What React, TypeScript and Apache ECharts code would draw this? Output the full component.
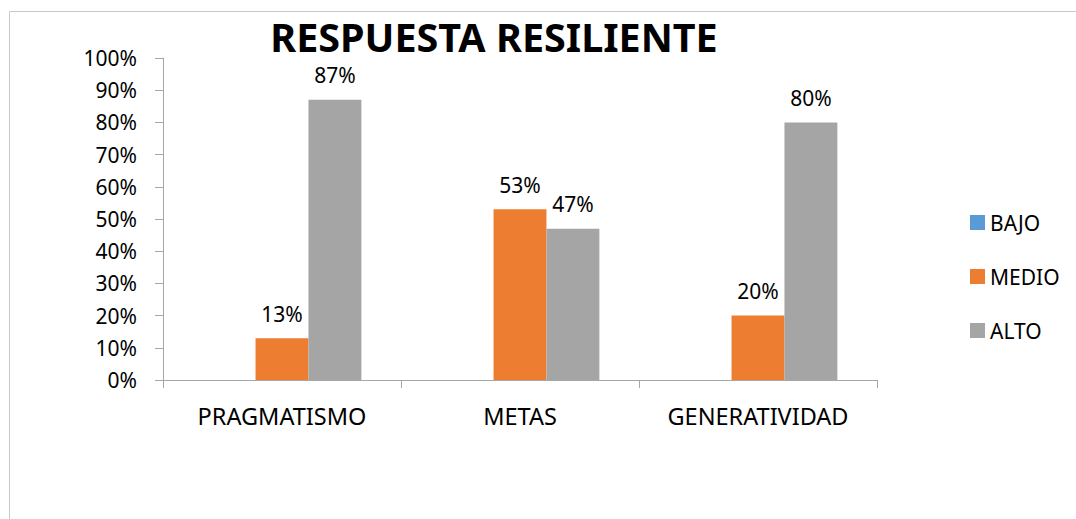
import React, { useEffect, useRef } from "react";
import * as echarts from "echarts";

const categories = ["PRAGMATISMO", "METAS", "GENERATIVIDAD"];
const seriesNames = ["BAJO", "MEDIO", "ALTO"];
const bajo = [0, 0, 0];
const medio = [13, 53, 20];
const alto = [87, 47, 80];
const colors = ["#5b9bd5", "#ed7d31", "#a5a5a5"];
const titleText = "RESPUESTA RESILIENTE";

const FONT = "'Noto Sans', 'Open Sans', sans-serif";

export default function App() {
  const ref = useRef<HTMLDivElement>(null);
  useEffect(() => {
    if (!ref.current) return;
    const chart = echarts.init(ref.current, undefined, { renderer: "svg" });
    const values = [bajo, medio, alto];
    chart.setOption({
      animation: false,
      backgroundColor: "#ffffff",
      textStyle: { fontFamily: FONT },
      title: {
        text: titleText,
        left: 494,
        top: 18,
        padding: 0,
        textAlign: "center",
        textStyle: { fontFamily: FONT, fontWeight: "bold", fontSize: 39.5, lineHeight: 38, color: "#000" },
      },
      legend: {
        orient: "vertical",
        left: 965,
        top: 207,
        itemWidth: 15,
        itemHeight: 15,
        itemGap: 33,
        icon: "rect",
        data: seriesNames,
        textStyle: { fontFamily: FONT, fontSize: 21, color: "#000", padding: [0, 0, 0, 0] },
      },
      graphic: [
        {
          type: "rect",
          shape: { x: 9.5, y: 11.5, width: 1200, height: 700 },
          style: { fill: "none", stroke: "#c8c8c8", lineWidth: 1 },
          silent: true,
        },
      ],
      grid: { left: 163, right: 199, top: 58, bottom: 139 },
      xAxis: {
        type: "category",
        data: categories,
        axisLine: { lineStyle: { color: "#a6a6a6", width: 1 } },
        axisTick: { show: true, length: 8, lineStyle: { color: "#a6a6a6" } },
        axisLabel: { fontFamily: FONT, fontSize: 23.5, color: "#000", margin: 24 },
      },
      yAxis: {
        type: "value",
        min: 0,
        max: 100,
        interval: 10,
        axisLine: { show: true, lineStyle: { color: "#a6a6a6", width: 1 } },
        axisTick: { show: true, length: 8, lineStyle: { color: "#a6a6a6" } },
        splitLine: { show: false },
        axisLabel: { fontFamily: FONT, fontSize: 21, color: "#000", margin: 26, formatter: "{value}%" },
      },
      series: seriesNames.map((name, i) => ({
        name,
        type: "bar",
        data: values[i],
        barGap: "0%",
        barCategoryGap: "33.3%",
        itemStyle: { color: colors[i] },
        label: {
          show: i !== 0,
          position: "top",
          distance: 15,
          formatter: "{c}%",
          fontFamily: FONT,
          fontSize: 21,
          lineHeight: 19,
          color: "#000",
        },
      })),
    });
    return () => chart.dispose();
  }, []);
  return (
    <div
      ref={ref}
      style={{ position: "absolute", left: 0, top: 0, width: 1076, height: 519 }}
    />
  );
}
